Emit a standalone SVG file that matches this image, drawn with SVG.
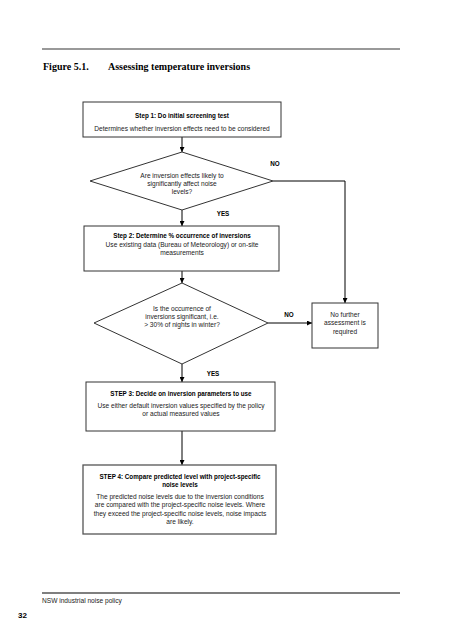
<svg xmlns="http://www.w3.org/2000/svg" width="452" height="640" viewBox="0 0 452 640">
<defs>
<marker id="ah" viewBox="0 0 10 10" refX="10" refY="5" markerWidth="5" markerHeight="5" markerUnits="userSpaceOnUse" orient="auto">
<path d="M0,0 L10,5 L0,10 z" fill="#000"/>
</marker>
</defs>
<style>
.box{fill:#fff;stroke:#333;stroke-width:1}
.t{font-family:"Liberation Sans",Arial,sans-serif;font-size:6.6px;fill:#222;text-anchor:middle}
.b{font-family:"Liberation Sans",Arial,sans-serif;font-size:6.3px;font-weight:bold;fill:#000;text-anchor:middle}
.c{fill:none;stroke:#000;stroke-width:1}
.h{font-family:"Liberation Serif","Times New Roman",serif;font-size:10px;font-weight:bold;fill:#000}
</style>
<rect width="452" height="640" fill="#fff"/>
<line x1="42" y1="49" x2="400" y2="49" stroke="#777" stroke-width="1.5"/>
<text class="h" x="43" y="70">Figure 5.1.</text>
<text class="h" x="108" y="70">Assessing temperature inversions</text>

<g id="connectors">
<line class="c" x1="182" y1="137" x2="182" y2="152" marker-end="url(#ah)"/>
<line class="c" x1="182" y1="210" x2="182" y2="226" marker-end="url(#ah)"/>
<polyline class="c" points="273,181 345,181 345,303" marker-end="url(#ah)"/>
<line class="c" x1="182" y1="271" x2="182" y2="283" marker-end="url(#ah)"/>
<line class="c" x1="268" y1="323" x2="312" y2="323" marker-end="url(#ah)"/>
<line class="c" x1="182" y1="364" x2="182" y2="382" marker-end="url(#ah)"/>
<line class="c" x1="182" y1="431" x2="182" y2="465" marker-end="url(#ah)"/>
<text class="b" x="275" y="166">NO</text>
<text class="b" x="223" y="216">YES</text>
<text class="b" x="289" y="317">NO</text>
<text class="b" x="213" y="376">YES</text>
</g>

<g id="step1">
<rect class="box" x="83" y="102" width="198" height="35"/>
<text class="b" x="182" y="118">Step 1: Do initial screening test</text>
<text class="t" x="182" y="131">Determines whether inversion effects need to be considered</text>
</g>

<g id="decision1">
<polygon class="box" points="182,152 273,181 182,210 90,181"/>
<text class="t" x="182" y="178">Are inversion effects likely to</text>
<text class="t" x="182" y="186">significantly affect noise</text>
<text class="t" x="182" y="194">levels?</text>
</g>

<g id="step2">
<rect class="box" x="84" y="226" width="195" height="45"/>
<text class="b" x="182" y="238">Step 2: Determine % occurrence of inversions</text>
<text class="t" x="182" y="247">Use existing data (Bureau of Meteorology) or on-site</text>
<text class="t" x="182" y="255">measurements</text>
</g>

<g id="decision2">
<polygon class="box" points="182,283 268,323 182,364 94,323"/>
<text class="t" x="182" y="311">Is the occurrence of</text>
<text class="t" x="182" y="319">inversions significant, i.e.</text>
<text class="t" x="182" y="327">&gt; 30% of nights in winter?</text>
</g>

<g id="nofurther">
<rect class="box" x="312" y="303" width="66" height="45"/>
<text class="t" x="345" y="317">No further</text>
<text class="t" x="345" y="325">assessment is</text>
<text class="t" x="345" y="334">required</text>
</g>

<g id="step3">
<rect class="box" x="86" y="382" width="189" height="49"/>
<text class="b" x="181" y="396">STEP 3: Decide on inversion parameters to use</text>
<text class="t" x="181" y="408">Use either default inversion values specified by the policy</text>
<text class="t" x="181" y="416">or actual measured values</text>
</g>

<g id="step4">
<rect class="box" x="83" y="465" width="193" height="69" style="stroke:#555;stroke-width:1.3"/>
<text class="b" x="180" y="479">STEP 4: Compare predicted level with project-specific</text>
<text class="b" x="180" y="487">noise levels</text>
<text class="t" x="180" y="499">The predicted noise levels due to the inversion conditions</text>
<text class="t" x="180" y="507">are compared with the project-specific noise levels. Where</text>
<text class="t" x="180" y="516">they exceed the project-specific noise levels, noise impacts</text>
<text class="t" x="180" y="524">are likely.</text>
</g>

<line x1="42" y1="593" x2="400" y2="593" stroke="#000" stroke-width="1.2"/>
<text class="t" x="42" y="603" style="text-anchor:start">NSW industrial noise policy</text>
<text x="18" y="618" style="font-family:'Liberation Sans',Arial,sans-serif;font-size:8px;font-weight:bold">32</text>
</svg>
